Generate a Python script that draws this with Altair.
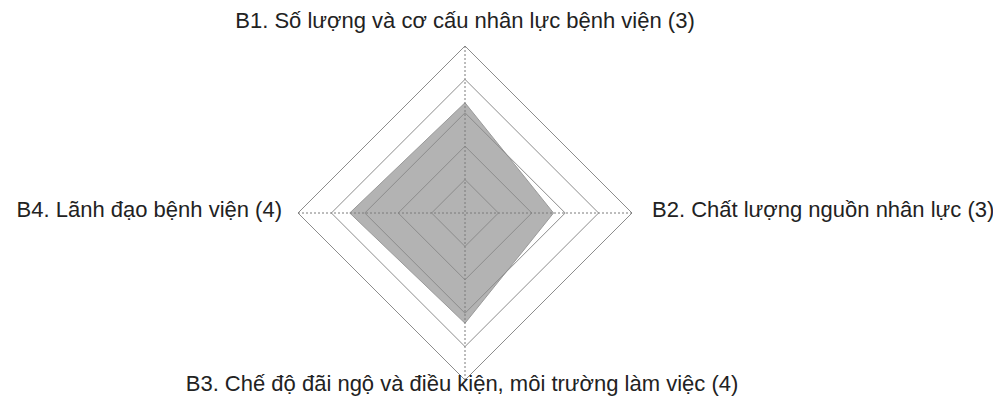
import altair as alt
import pandas as pd

# ---- data ----
categories = [
    "B1. Số lượng và cơ cấu nhân lực bệnh viện (3)",
    "B2. Chất lượng nguồn nhân lực (3)",
    "B3. Chế độ đãi ngộ và điều kiện, môi trường làm việc (4)",
    "B4. Lãnh đạo bệnh viện (4)",
]
values = [3.3, 2.65, 3.3, 3.45]
levels = [1, 2, 3, 4, 5]
max_level = 5

n = len(categories)

# polygon of the scores (closed)
score_df = pd.DataFrame({
    "idx": list(range(n)) + [n],
    "r": values + [values[0]],
})

# grid diamonds (closed)
grid_rows = []
for lv in levels:
    for i in range(n + 1):
        grid_rows.append({"level": lv, "idx": i, "r": lv})
grid_df = pd.DataFrame(grid_rows)

# spokes and labels
spoke_df = pd.DataFrame({"idx": list(range(n)), "r": [max_level] * n, "label": categories})

W, H = 985, 389
unit = 33.4
cx, cy = 457, 205
X = alt.X("x:Q", scale=alt.Scale(domain=[-cx / unit, (W - cx) / unit], nice=False, zero=False), axis=None)
Y = alt.Y("y:Q", scale=alt.Scale(domain=[-(H - cy) / unit, cy / unit], nice=False, zero=False), axis=None)


def polar(chart):
    return chart.transform_calculate(
        x=f"datum.r * sin(datum.idx * 2 * PI / {n})",
        y=f"datum.r * cos(datum.idx * 2 * PI / {n})",
    )


fill = polar(alt.Chart(score_df)).mark_line(
    fill="#b3b3b3", stroke="#9a9a9a", strokeWidth=1, fillOpacity=1
).encode(x=X, y=Y, order="idx:Q")

grid = polar(alt.Chart(grid_df)).mark_line(
    stroke="#8c8c8c", strokeWidth=1, fill=None
).encode(x=X, y=Y, order="idx:Q", detail="level:N")

spokes = polar(alt.Chart(spoke_df)).transform_calculate(x0="0", y0="0").mark_rule(
    stroke="#7a7a7a", strokeWidth=1, strokeDash=[2, 2]
).encode(x=X, y=Y, x2="x0:Q", y2="y0:Q")

font = "Liberation Sans"
fs = 22
tcol = "#222222"


def label(i, **kw):
    return polar(alt.Chart(spoke_df)).transform_filter(f"datum.idx == {i}").mark_text(
        font=font, fontSize=fs, color=tcol, baseline="alphabetic", **kw
    ).encode(x=X, y=Y, text="label:N")


labels = alt.layer(
    label(0, align="center", dx=0, dy=-18),
    label(1, align="left", dx=20, dy=4),
    label(2, align="center", dx=-3, dy=11),
    label(3, align="right", dx=-16, dy=4),
)

chart = alt.layer(fill, grid, spokes, labels).properties(
    width=W, height=H,
    autosize=alt.AutoSizeParams(type="none"),
    padding=0,
).configure_view(stroke=None)

chart.save("out.html", embed_options={"renderer": "svg", "actions": False})
